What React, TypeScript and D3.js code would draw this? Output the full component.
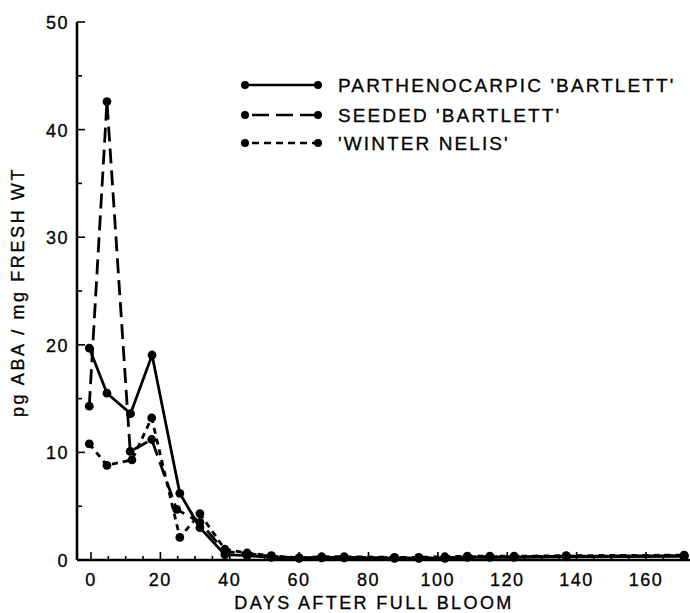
import React, { useEffect, useRef } from "react";
import * as d3 from "d3";

// days after full bloom and ABA values
const parthenoDays = [-0.5, 4.6, 11.4, 17.6, 25.6, 31.4, 38.6, 45, 52, 60, 66.5, 73, 87.5, 94.5, 102, 108.5, 115, 122, 137, 171];
const parthenoVals = [19.7, 15.5, 13.6, 19.05, 6.2, 3.0, 0.5, 0.4, 0.25, 0.15, 0.2, 0.2, 0.15, 0.15, 0.15, 0.25, 0.25, 0.25, 0.3, 0.35];

const seededDays = [-0.5, 4.6, 11.3, 17.5, 24.7, 31.4, 38.6, 45, 52, 60, 66.5, 73, 87.5, 94.5, 102, 108.5, 115, 122, 137, 171];
const seededVals = [14.3, 42.6, 10.1, 11.2, 4.7, 3.5, 0.8, 0.6, 0.35, 0.2, 0.25, 0.25, 0.2, 0.2, 0.2, 0.3, 0.3, 0.3, 0.35, 0.4];

const winterDays = [-0.5, 4.6, 11.8, 17.5, 25.6, 31.4, 38.6, 45, 52, 60, 66.5, 73, 87.5, 94.5, 102, 108.5, 115, 122, 137, 171];
const winterVals = [10.8, 8.8, 9.3, 13.2, 2.1, 4.3, 1.0, 0.65, 0.4, 0.2, 0.3, 0.3, 0.25, 0.25, 0.3, 0.35, 0.35, 0.35, 0.4, 0.45];

const seriesNames = ["PARTHENOCARPIC 'BARTLETT'", "SEEDED 'BARTLETT'", "'WINTER NELIS'"];
const dashes = ["none", "15,7", "6,5"];

const xTicks = [0, 20, 40, 60, 80, 100, 120, 140, 160];
const yTicks = [0, 10, 20, 30, 40, 50];

const FONT = "'Liberation Sans', Arial, sans-serif";

export default function App() {
  const ref = useRef<SVGSVGElement>(null);

  useEffect(() => {
    const svg = d3.select(ref.current);
    svg.selectAll("*").remove();

    const x = d3.scaleLinear().domain([0, 160]).range([91, 646]);
    const y = d3.scaleLinear().domain([0, 50]).range([560, 22]);
    const x0 = 77, x1 = 690;

    const g = svg.append("g");

    // axes lines
    g.append("line").attr("x1", x0).attr("x2", x1).attr("y1", y(0)).attr("y2", y(0))
      .attr("stroke", "#000").attr("stroke-width", 2.6);
    g.append("line").attr("x1", x0).attr("x2", x0).attr("y1", y(0)).attr("y2", y(50))
      .attr("stroke", "#000").attr("stroke-width", 2.6);

    // x ticks, inward
    const xMinor = d3.range(0, 176, 5);
    g.selectAll(".xt").data(xMinor).join("line")
      .attr("x1", (d) => x(d)).attr("x2", (d) => x(d))
      .attr("y1", y(0)).attr("y2", (d) => y(0) - (d % 20 === 0 ? 8 : 4))
      .attr("stroke", "#000").attr("stroke-width", 1.6);
    g.selectAll(".xl").data(xTicks).join("text")
      .attr("x", (d) => x(d)).attr("y", 586)
      .attr("text-anchor", "middle")
      .attr("font-family", FONT).attr("font-size", 18).attr("letter-spacing", 1.5)
      .attr("stroke", "#000").attr("stroke-width", 0.3)
      .text((d) => d);

    // y ticks, inward
    const yMinor = d3.range(0, 51, 5);
    g.selectAll(".yt").data(yMinor).join("line")
      .attr("x1", x0).attr("x2", (d) => x0 + (d % 10 === 0 ? 8 : 5))
      .attr("y1", (d) => y(d)).attr("y2", (d) => y(d))
      .attr("stroke", "#000").attr("stroke-width", 1.6);
    g.selectAll(".yl").data(yTicks).join("text")
      .attr("x", 69).attr("y", (d) => y(d) + 7)
      .attr("text-anchor", "end")
      .attr("font-family", FONT).attr("font-size", 18).attr("letter-spacing", 1.5)
      .attr("stroke", "#000").attr("stroke-width", 0.3)
      .text((d) => d);

    // titles
    g.append("text").attr("x", 374).attr("y", 609).attr("text-anchor", "middle")
      .attr("font-family", FONT).attr("font-size", 18).attr("letter-spacing", 2.4)
      .attr("stroke", "#000").attr("stroke-width", 0.3)
      .text("DAYS AFTER FULL BLOOM");
    g.append("text").attr("transform", "translate(24,292) rotate(-90)").attr("text-anchor", "middle")
      .attr("font-family", FONT).attr("font-size", 18).attr("letter-spacing", 2.6)
      .attr("stroke", "#000").attr("stroke-width", 0.3)
      .text("pg ABA / mg FRESH WT");

    const series = [
      parthenoDays.map((d, i) => [d, parthenoVals[i]]),
      seededDays.map((d, i) => [d, seededVals[i]]),
      winterDays.map((d, i) => [d, winterVals[i]]),
    ];

    const line = d3.line<number[]>().x((d) => x(d[0])).y((d) => y(d[1]));

    series.forEach((s, i) => {
      g.append("path").datum(s).attr("d", line)
        .attr("fill", "none").attr("stroke", "#000").attr("stroke-width", 2.8)
        .attr("stroke-dasharray", dashes[i]);
      g.selectAll(".pt" + i).data(s).join("circle")
        .attr("cx", (d) => x(d[0])).attr("cy", (d) => y(d[1])).attr("r", 4.4)
        .attr("fill", "#000");
    });

    // legend
    const ly = [85, 115, 143];
    seriesNames.forEach((name, i) => {
      g.append("line").attr("x1", 245).attr("x2", 318).attr("y1", ly[i]).attr("y2", ly[i])
        .attr("stroke", "#000").attr("stroke-width", 2.6).attr("stroke-dasharray", i === 0 ? "none" : i === 1 ? "17,7" : "7,5")
        .attr("stroke-dashoffset", i === 0 ? 0 : -7);
      g.append("circle").attr("cx", 245).attr("cy", ly[i]).attr("r", 4).attr("fill", "#000");
      g.append("circle").attr("cx", 318).attr("cy", ly[i]).attr("r", 4).attr("fill", "#000");
      g.append("text").attr("x", 338).attr("y", ly[i] + 7)
        .attr("font-family", FONT).attr("font-size", 19).attr("letter-spacing", 2.1)
        .attr("stroke", "#000").attr("stroke-width", 0.3)
        .text(name);
    });
  }, []);

  return (
    <svg ref={ref} width={690} height={613}
      style={{ position: "absolute", left: 0, top: 0, background: "#fff" }} />
  );
}
